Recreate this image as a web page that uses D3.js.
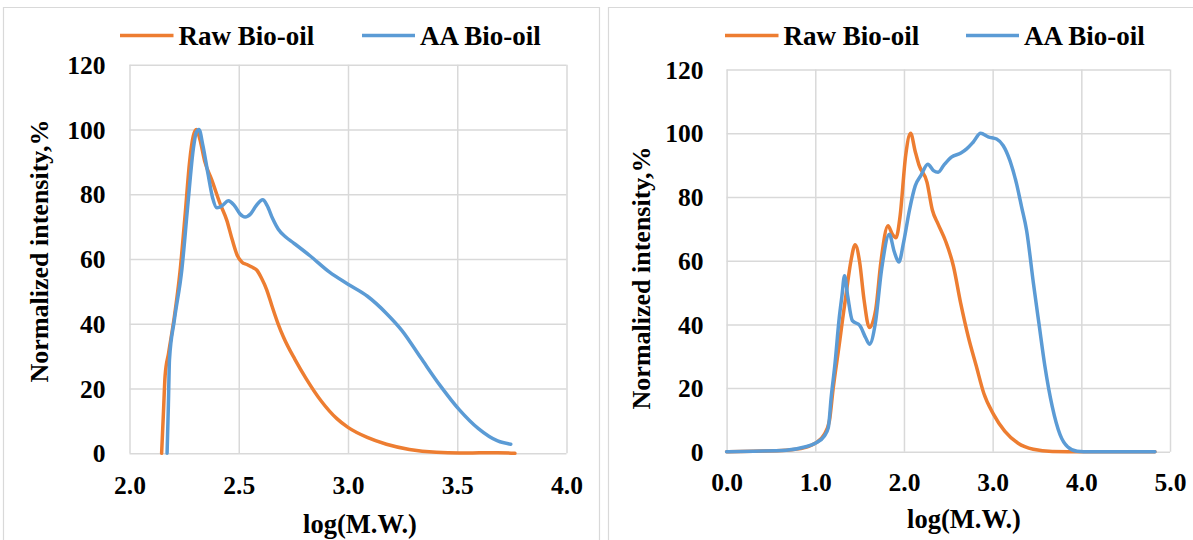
<!DOCTYPE html>
<html>
<head>
<meta charset="utf-8">
<script src="https://cdn.jsdelivr.net/npm/d3@7"></script>
<style>
	body { margin: 0; background: #fff; }
	svg text { font-family: "Times New Roman", "Liberation Serif", serif; font-weight: bold; fill: #000; }
</style>
</head>
<body>
<svg id="chart" width="1193" height="540"></svg>
<script>
(function() {
	"use strict";

	// 왼쪽 차트 데이터 [log(M.W.), intensity]
	var leftRaw = [[2.147,0],[2.155,12],[2.163,24],[2.179,31],[2.205,42],[2.231,56],[2.255,74],[2.275,90],[2.292,98],[2.306,100],
		[2.322,97],[2.345,90],[2.376,84.5],[2.415,77],[2.445,72],[2.47,66],[2.494,61],[2.515,59],[2.537,58.3],[2.56,57.5],
		[2.582,56.6],[2.605,54],[2.628,50.5],[2.652,45.5],[2.68,40],[2.704,36],[2.757,29],[2.809,23],[2.879,16],[2.949,10.7],
		[3.0,8],[3.088,4.9],[3.176,2.8],[3.281,1.2],[3.404,0.3],[3.51,0.1],[3.6,0.15],[3.685,0.2],[3.764,0]];
	var leftAA = [[2.172,0],[2.178,15],[2.183,29],[2.205,41],[2.24,57],[2.266,76],[2.292,94],[2.305,99],[2.318,100],[2.336,95],
		[2.36,86],[2.38,79],[2.4,75.8],[2.425,76.5],[2.452,78],[2.48,76.5],[2.505,74],[2.529,73],[2.555,74],[2.58,76.5],
		[2.61,78.3],[2.63,76.5],[2.655,72.5],[2.681,69.2],[2.715,66.8],[2.75,65],[2.826,61],[2.914,56],[3.0,52.2],[3.089,48.5],
		[3.176,43.2],[3.247,37.9],[3.334,29.4],[3.422,20.9],[3.51,13.4],[3.597,7.6],[3.685,3.8],[3.745,2.8]];

	// 오른쪽 차트 데이터
	var rightRaw = [[0,0],[0.3,0.2],[0.67,0.5],[0.88,1.3],[1.0,2.7],[1.1,5.4],[1.16,9.8],[1.2,19.5],[1.27,33.6],[1.31,42],
		[1.35,50],[1.4,59.6],[1.45,65],[1.5,59.6],[1.55,47.7],[1.61,39],[1.68,44.4],[1.74,59.6],[1.82,71],[1.87,68.3],
		[1.91,67.2],[1.955,73.7],[2.02,93.2],[2.075,100],[2.127,94.3],[2.17,90],[2.26,84.6],[2.32,75.9],[2.385,71.5],[2.47,66.1],
		[2.556,58.5],[2.64,46.6],[2.728,35.8],[2.814,27.1],[2.9,18.4],[3.007,11.9],[3.136,6.5],[3.287,2.7],[3.459,0.8],[3.673,0.1],
		[4.02,0],[4.83,0]];
	var rightAA = [[0,0],[0.3,0.2],[0.67,0.5],[0.88,1.5],[1.0,2.7],[1.1,4.9],[1.147,7.6],[1.18,17.3],[1.22,27],[1.27,42],
		[1.3,48.8],[1.33,55.3],[1.366,48.8],[1.418,41.2],[1.504,39.6],[1.568,35.8],[1.611,33.8],[1.676,40.1],[1.749,57.5],[1.835,68.3],
		[1.89,62.9],[1.942,59.6],[1.998,66.1],[2.062,75.9],[2.127,83.5],[2.19,86.7],[2.269,90.3],[2.333,88.3],[2.385,87.8],[2.45,90],
		[2.535,92.5],[2.642,93.8],[2.707,95.1],[2.78,97.2],[2.865,100],[2.95,98.9],[3.045,98.2],[3.12,96.1],[3.195,91.4],[3.27,84.1],
		[3.327,76.8],[3.383,69.5],[3.459,53.1],[3.523,40.1],[3.588,27.1],[3.673,14.1],[3.76,5.4],[3.845,1.6],[3.953,0.2],[4.1,0],[4.83,0]];

	var seriesNames = ["Raw Bio-oil", "AA Bio-oil"];
	var yTicks = [0, 20, 40, 60, 80, 100, 120];
	var leftXTicks = [2.0, 2.5, 3.0, 3.5, 4.0];
	var rightXTicks = [0, 1, 2, 3, 4, 5];

	var colors = ["#ED7D31", "#5B9BD5"];
	var gridColor = "#d9d9d9";
	var svg = d3.select("#chart");

	// 패널 테두리
	svg.append("path")
		.attr("d", "M3.5,540V7.5H599.5V540")
		.attr("fill", "none").attr("stroke", gridColor).attr("stroke-width", 1.2);
	svg.append("path")
		.attr("d", "M608.5,540V7.5H1193")
		.attr("fill", "none").attr("stroke", gridColor).attr("stroke-width", 1.2);

	function drawPanel(cfg) {
		var x = d3.scaleLinear().domain(cfg.xDomain).range([cfg.left, cfg.right]);
		var y = d3.scaleLinear().domain([0, 120]).range([cfg.bottom, cfg.top]);
		var g = svg.append("g");

		// grid (x)
		var xAxis = d3.axisBottom(x).tickValues(cfg.xTicks).tickSize(-(cfg.bottom - cfg.top))
			.tickFormat(d3.format(".1f")).tickPadding(cfg.xPad);
		var gx = g.append("g").attr("transform", "translate(0," + cfg.bottom + ")").call(xAxis);
		gx.select(".domain").remove();
		gx.selectAll("line").attr("stroke", gridColor).attr("stroke-width", 1.5);
		gx.selectAll("text").attr("font-size", 25.5);

		var yAxis = d3.axisLeft(y).tickValues(yTicks).tickSize(-(cfg.right - cfg.left))
			.tickPadding(cfg.yPad);
		var gy = g.append("g").attr("transform", "translate(" + cfg.left + ",0)").call(yAxis);
		gy.select(".domain").remove();
		gy.selectAll("line").attr("stroke", gridColor).attr("stroke-width", 1.5);
		gy.selectAll("text").attr("font-size", 25.5).attr("dy", "0.34em");

		var line = d3.line()
			.x(function(d) { return x(d[0]); })
			.y(function(d) { return y(d[1]); })
			.curve(d3.curveMonotoneX);

		[cfg.raw, cfg.aa].forEach(function(s, i) {
			g.append("path").datum(s)
				.attr("d", line)
				.attr("fill", "none")
				.attr("stroke", colors[i])
				.attr("stroke-width", 3.5)
				.attr("stroke-linejoin", "round")
				.attr("stroke-linecap", "round");
		});

		// 축 제목
		g.append("text")
			.attr("x", cfg.xTitleX).attr("y", cfg.xTitleY)
			.attr("text-anchor", "middle").attr("font-size", 26.5)
			.text("log(M.W.)");
		g.append("text")
			.attr("transform", "translate(" + cfg.yTitleX + "," + cfg.yTitleY + ") rotate(-90)")
			.attr("text-anchor", "middle").attr("dy", "0.35em").attr("font-size", 26)
			.text("Normalized intensity,%");

		// 범례
		cfg.legend.forEach(function(lx, i) {
			g.append("line")
				.attr("x1", lx[0]).attr("x2", lx[1])
				.attr("y1", 35.5).attr("y2", 35.5)
				.attr("stroke", colors[i]).attr("stroke-width", 3.5);
			g.append("text")
				.attr("x", lx[1] + 5).attr("y", 44.5)
				.attr("font-size", 27)
				.text(seriesNames[i]);
		});
	}

	drawPanel({
		xDomain: [2.0, 4.0], xTicks: leftXTicks,
		left: 129.5, right: 566.5, top: 64.7, bottom: 453.3,
		xPad: 23, yPad: 24,
		raw: leftRaw, aa: leftAA,
		xTitleX: 360, xTitleY: 532.5,
		yTitleX: 39, yTitleY: 251,
		legend: [[120, 173.5], [362, 415]]
	});

	drawPanel({
		xDomain: [0, 5], xTicks: rightXTicks,
		left: 726.6, right: 1170, top: 69.6, bottom: 451.8,
		xPad: 21, yPad: 23,
		raw: rightRaw, aa: rightAA,
		xTitleX: 964, xTitleY: 528,
		yTitleX: 641, yTitleY: 278,
		legend: [[725, 778.5], [966, 1019]]
	});
})();
</script>
</body>
</html>
